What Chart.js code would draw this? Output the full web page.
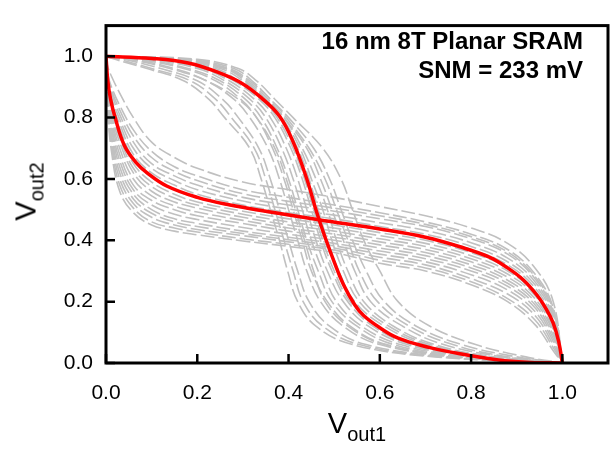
<!DOCTYPE html>
<html>
<head>
<meta charset="utf-8">
<script src="https://cdn.jsdelivr.net/npm/chart.js@4.4.0/dist/chart.umd.min.js"></script>
<style>
  body { margin: 0; background: #fff; }
  #wrap { position: relative; width: 611px; height: 457px; font-family: Arial, "Liberation Sans", sans-serif; color: #000; }
  #wrap canvas { position: absolute; left: 0; top: 0; }
  .note { position: absolute; right: 28px; top: 26px; text-align: right; font-weight: bold; font-size: 24px; line-height: 29px; }
  .xtitle { position: absolute; left: 257px; width: 200px; top: 406px; text-align: center; font-size: 29px; line-height: 34px; }
  .ytitle { position: absolute; left: -73px; width: 200px; top: 173px; text-align: center; font-size: 29px; line-height: 34px; transform: rotate(-90deg); }
  .sub { font-size: 20px; position: relative; top: 8px; }
</style>
</head>
<body>
<div id="wrap">
  <canvas id="c" width="611" height="457"></canvas>
  <div class="note">16 nm 8T Planar SRAM<br>SNM = 233 mV</div>
  <div class="xtitle">V<span class="sub">out1</span></div>
  <div class="ytitle">V<span class="sub">out2</span></div>
</div>
<script>
// axis ticks
const X_TICKS = [0, 0.2, 0.4, 0.6, 0.8, 1.0];
const Y_TICKS = [0, 0.2, 0.4, 0.6, 0.8, 1.0];

// nominal butterfly curves (red)
const RED_A_X = [0, 0.1, 0.18, 0.25, 0.3, 0.34, 0.38, 0.41, 0.44, 0.462, 0.48, 0.5, 0.52, 0.545, 0.565, 0.6, 0.64, 0.71, 0.75, 0.86, 0.93, 1.0];
const RED_A_Y = [1.0, 0.993, 0.978, 0.945, 0.91, 0.865, 0.805, 0.721, 0.6, 0.49, 0.41, 0.33, 0.257, 0.19, 0.154, 0.115, 0.081, 0.05, 0.037, 0.01, 0.002, 0.0];
const RED_B_X = [0, 0.004, 0.01, 0.02, 0.04, 0.065, 0.09, 0.133, 0.2, 0.272, 0.35, 0.466, 0.6, 0.7, 0.784, 0.84, 0.88, 0.915, 0.945, 0.965, 0.98, 0.992, 1.0];
const RED_B_Y = [1.0, 0.92, 0.86, 0.8, 0.71, 0.655, 0.62, 0.577, 0.54, 0.515, 0.495, 0.467, 0.437, 0.41, 0.375, 0.345, 0.31, 0.27, 0.22, 0.175, 0.13, 0.07, 0.0];

// Monte Carlo curves, family A: Vout1 read at these Vout2 levels
const A_LEVELS = [1.0, 0.99, 0.96, 0.92, 0.86, 0.8, 0.7, 0.6, 0.5, 0.4, 0.3, 0.2, 0.12, 0.06, 0.02, 0.0];
const GRAY_A = [
  [0, 0.02, 0.09, 0.17, 0.225, 0.26, 0.315, 0.34, 0.36, 0.38, 0.398, 0.42, 0.46, 0.54, 0.72, 1],
  [0, 0.03, 0.1, 0.185, 0.24, 0.275, 0.325, 0.35, 0.37, 0.39, 0.41, 0.432, 0.475, 0.555, 0.735, 1],
  [0, 0.04, 0.12, 0.2, 0.255, 0.29, 0.335, 0.36, 0.38, 0.40, 0.42, 0.445, 0.49, 0.57, 0.75, 1],
  [0, 0.05, 0.14, 0.22, 0.29, 0.33, 0.37, 0.395, 0.415, 0.435, 0.455, 0.48, 0.53, 0.61, 0.76, 1],
  [0, 0.06, 0.15, 0.22, 0.28, 0.315, 0.355, 0.38, 0.40, 0.42, 0.44, 0.47, 0.52, 0.6, 0.77, 1],
  [0, 0.07, 0.17, 0.24, 0.295, 0.33, 0.365, 0.39, 0.41, 0.43, 0.45, 0.485, 0.535, 0.615, 0.775, 1],
  [0, 0.08, 0.18, 0.25, 0.305, 0.34, 0.375, 0.40, 0.42, 0.44, 0.465, 0.495, 0.55, 0.63, 0.78, 1],
  [0, 0.09, 0.2, 0.26, 0.315, 0.35, 0.385, 0.41, 0.43, 0.45, 0.475, 0.505, 0.56, 0.645, 0.79, 1],
  [0, 0.1, 0.21, 0.27, 0.325, 0.36, 0.395, 0.42, 0.44, 0.46, 0.485, 0.52, 0.575, 0.66, 0.8, 1],
  [0, 0.11, 0.22, 0.28, 0.335, 0.37, 0.405, 0.43, 0.45, 0.47, 0.495, 0.53, 0.585, 0.67, 0.81, 1],
  [0, 0.12, 0.23, 0.285, 0.34, 0.375, 0.41, 0.435, 0.455, 0.475, 0.5, 0.535, 0.595, 0.68, 0.82, 1],
  [0, 0.13, 0.24, 0.29, 0.345, 0.38, 0.42, 0.445, 0.465, 0.485, 0.51, 0.545, 0.61, 0.7, 0.83, 1],
  [0, 0.14, 0.25, 0.3, 0.35, 0.385, 0.425, 0.45, 0.475, 0.495, 0.52, 0.555, 0.62, 0.71, 0.84, 1],
  [0, 0.15, 0.26, 0.305, 0.35, 0.39, 0.43, 0.46, 0.485, 0.505, 0.53, 0.565, 0.63, 0.72, 0.85, 1],
  [0, 0.16, 0.265, 0.31, 0.355, 0.39, 0.44, 0.47, 0.495, 0.52, 0.545, 0.58, 0.65, 0.74, 0.87, 1],
  [0, 0.17, 0.27, 0.315, 0.36, 0.395, 0.445, 0.48, 0.505, 0.53, 0.555, 0.595, 0.665, 0.76, 0.88, 1],
  [0, 0.18, 0.28, 0.32, 0.36, 0.4, 0.455, 0.49, 0.515, 0.54, 0.57, 0.61, 0.68, 0.78, 0.9, 1],
  [0, 0.2, 0.29, 0.33, 0.37, 0.41, 0.475, 0.515, 0.54, 0.565, 0.6, 0.64, 0.71, 0.81, 0.92, 1]
];

// family B: Vout2 read at these Vout1 levels
const B_LEVELS = [0, 0.004, 0.012, 0.03, 0.06, 0.1, 0.15, 0.2, 0.3, 0.4, 0.5, 0.6, 0.7, 0.8, 0.88, 0.94, 0.98, 1.0];
const GRAY_B = [
  [1, 0.82, 0.69, 0.56, 0.49, 0.45, 0.43, 0.418, 0.398, 0.38, 0.36, 0.325, 0.3, 0.255, 0.2, 0.125, 0.04, 0],
  [1, 0.83, 0.71, 0.58, 0.505, 0.46, 0.44, 0.427, 0.405, 0.387, 0.368, 0.335, 0.31, 0.265, 0.21, 0.14, 0.05, 0],
  [1, 0.84, 0.73, 0.6, 0.52, 0.475, 0.45, 0.435, 0.415, 0.395, 0.375, 0.345, 0.32, 0.275, 0.225, 0.155, 0.06, 0],
  [1, 0.85, 0.745, 0.62, 0.535, 0.488, 0.46, 0.445, 0.422, 0.402, 0.382, 0.355, 0.33, 0.288, 0.238, 0.168, 0.07, 0],
  [1, 0.86, 0.765, 0.64, 0.55, 0.5, 0.47, 0.455, 0.43, 0.41, 0.39, 0.365, 0.34, 0.3, 0.25, 0.18, 0.08, 0],
  [1, 0.865, 0.775, 0.66, 0.565, 0.515, 0.485, 0.468, 0.442, 0.42, 0.4, 0.375, 0.35, 0.31, 0.26, 0.19, 0.09, 0],
  [1, 0.87, 0.79, 0.68, 0.58, 0.53, 0.5, 0.48, 0.455, 0.43, 0.41, 0.385, 0.36, 0.32, 0.27, 0.2, 0.1, 0],
  [1, 0.88, 0.8, 0.7, 0.6, 0.545, 0.512, 0.492, 0.465, 0.44, 0.42, 0.395, 0.37, 0.33, 0.28, 0.21, 0.108, 0],
  [1, 0.885, 0.81, 0.72, 0.62, 0.56, 0.525, 0.505, 0.475, 0.45, 0.43, 0.405, 0.38, 0.34, 0.29, 0.22, 0.115, 0],
  [1, 0.89, 0.82, 0.735, 0.635, 0.575, 0.538, 0.515, 0.485, 0.46, 0.44, 0.415, 0.39, 0.35, 0.3, 0.228, 0.122, 0],
  [1, 0.9, 0.83, 0.75, 0.65, 0.59, 0.55, 0.525, 0.495, 0.47, 0.45, 0.425, 0.4, 0.36, 0.31, 0.235, 0.13, 0],
  [1, 0.905, 0.84, 0.765, 0.665, 0.605, 0.565, 0.538, 0.505, 0.48, 0.46, 0.435, 0.41, 0.37, 0.32, 0.245, 0.14, 0],
  [1, 0.91, 0.85, 0.78, 0.68, 0.62, 0.58, 0.55, 0.515, 0.49, 0.47, 0.445, 0.42, 0.38, 0.33, 0.255, 0.15, 0],
  [1, 0.92, 0.865, 0.795, 0.70, 0.635, 0.595, 0.565, 0.528, 0.502, 0.482, 0.457, 0.432, 0.392, 0.342, 0.265, 0.158, 0],
  [1, 0.93, 0.88, 0.81, 0.72, 0.65, 0.61, 0.58, 0.54, 0.515, 0.495, 0.47, 0.445, 0.405, 0.355, 0.275, 0.165, 0],
  [1, 0.935, 0.89, 0.825, 0.74, 0.67, 0.625, 0.595, 0.552, 0.527, 0.505, 0.48, 0.452, 0.412, 0.362, 0.282, 0.172, 0],
  [1, 0.94, 0.9, 0.84, 0.76, 0.69, 0.64, 0.61, 0.565, 0.54, 0.515, 0.49, 0.46, 0.42, 0.37, 0.29, 0.18, 0],
  [1, 0.965, 0.935, 0.88, 0.8, 0.72, 0.67, 0.635, 0.59, 0.565, 0.54, 0.51, 0.48, 0.44, 0.39, 0.31, 0.2, 0]
];

const GRAY = '#c0c0c0';
const RED = '#ff0000';

function grayLine(points) {
  return {
    data: points,
    borderColor: GRAY,
    borderWidth: 1.6,
    borderDash: [14, 4],
    pointRadius: 0,
    tension: 0.4,
    fill: false
  };
}

function redLine(xs, ys) {
  return {
    data: xs.map((x, i) => ({ x: x, y: ys[i] })),
    borderColor: RED,
    borderWidth: 3.5,
    pointRadius: 0,
    tension: 0.4,
    fill: false
  };
}

// first datasets are drawn last, so red goes first to sit on top
const datasets = [redLine(RED_A_X, RED_A_Y), redLine(RED_B_X, RED_B_Y)];
GRAY_A.forEach(xs => {
  datasets.push(grayLine(A_LEVELS.map((y, i) => ({ x: xs[i], y: y }))));
});
GRAY_B.forEach(ys => {
  datasets.push(grayLine(B_LEVELS.map((x, i) => ({ x: x, y: ys[i] }))));
});

// box around the plot + inward ticks
const framePlugin = {
  id: 'frame',
  afterDatasetsDraw(chart) {
    const { ctx, chartArea: a, scales } = chart;
    ctx.save();
    ctx.strokeStyle = '#000';
    ctx.lineWidth = 3;
    ctx.strokeRect(a.left, a.top, a.right - a.left, a.bottom - a.top);
    ctx.lineWidth = 2.5;
    ctx.beginPath();
    X_TICKS.forEach(v => {
      const px = scales.x.getPixelForValue(v);
      ctx.moveTo(px, a.bottom);
      ctx.lineTo(px, a.bottom - 9);
    });
    Y_TICKS.forEach(v => {
      const py = scales.y.getPixelForValue(v);
      ctx.moveTo(a.left, py);
      ctx.lineTo(a.left + 9, py);
    });
    ctx.stroke();
    ctx.restore();
  }
};

const tickFont = { family: 'Arial, "Liberation Sans", sans-serif', size: 21 };

new Chart(document.getElementById('c'), {
  type: 'line',
  data: { datasets: datasets },
  options: {
    responsive: false,
    animation: false,
    layout: { padding: { left: 0, right: 3, top: 7, bottom: 0 } },
    plugins: { legend: { display: false }, tooltip: { enabled: false } },
    scales: {
      x: {
        type: 'linear',
        min: 0,
        max: 1.1,
        afterBuildTicks: s => { s.ticks = X_TICKS.map(v => ({ value: v })); },
        afterFit: s => { s.height = 94; },
        grid: { display: false, drawTicks: false },
        border: { display: false },
        ticks: { font: tickFont, color: '#000', padding: 18, maxRotation: 0, autoSkip: false, callback: v => v.toFixed(1) }
      },
      y: {
        type: 'linear',
        min: 0,
        max: 1.1,
        afterBuildTicks: s => { s.ticks = Y_TICKS.map(v => ({ value: v })); },
        afterFit: s => { s.width = 106; },
        grid: { display: false, drawTicks: false },
        border: { display: false },
        ticks: { font: tickFont, color: '#000', padding: 13, autoSkip: false, callback: v => v.toFixed(1) }
      }
    }
  },
  plugins: [framePlugin]
});
</script>
</body>
</html>
